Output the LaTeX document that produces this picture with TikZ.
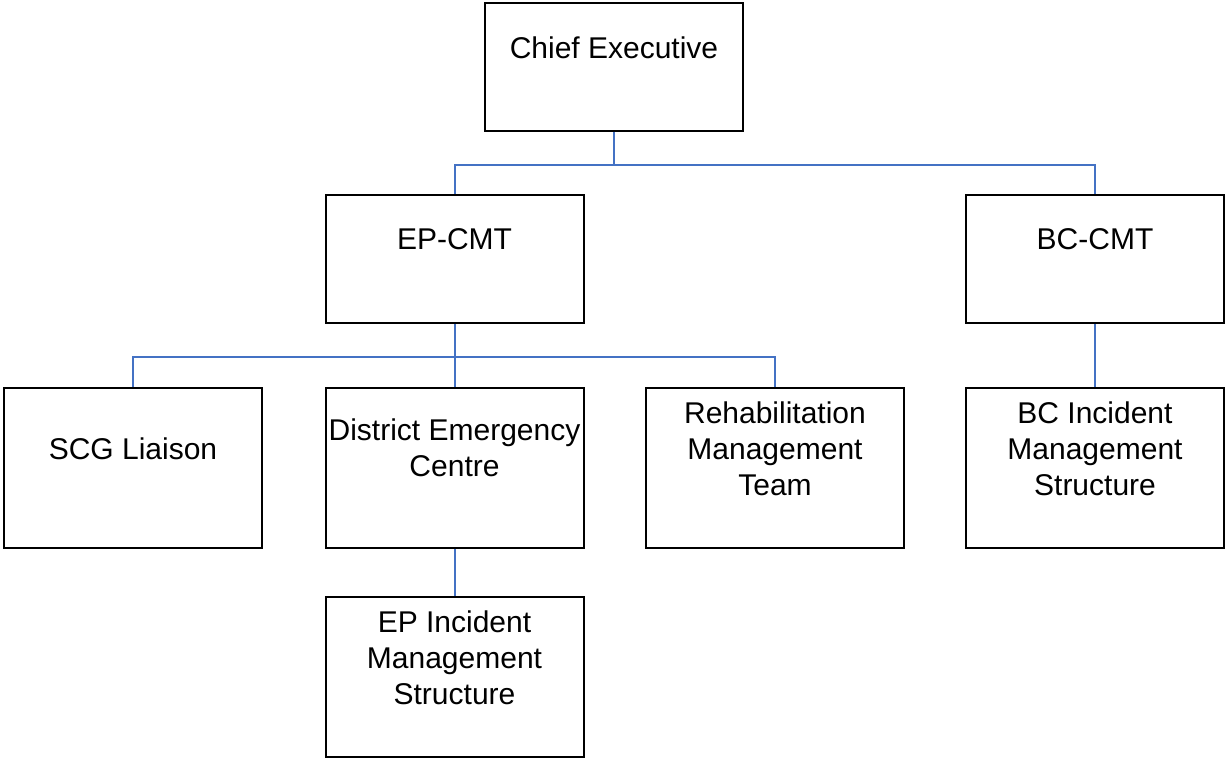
\documentclass[tikz,border=0pt]{standalone}
\usepackage{fontspec}
\setmainfont{Liberation Sans}
\definecolor{conn}{RGB}{68,114,196}
\begin{document}
\begin{tikzpicture}[x=1pt,y=-1pt,
  box/.style={draw=black,line width=2pt,minimum width=258pt,inner sep=0pt},
  boxhi/.style={box,minimum height=128pt},
  boxlo/.style={box,minimum height=160pt},
  txt/.style={anchor=north,inner sep=0pt,align=center,font=\fontsize{30}{36}\selectfont},
  link/.style={draw=conn,line width=2pt}]
\useasboundingbox (0,0) rectangle (1225,758);
% boxes
\node[boxhi] (ce) at (614,66.5) {};
\node[boxhi] (ep) at (454.5,259) {};
\node[boxhi] (bc) at (1095,259) {};
\node[boxlo] (scg) at (133,468) {};
\node[boxlo] (dec) at (454.5,468) {};
\node[boxlo] (rmt) at (775,468) {};
\node[boxlo] (bcims) at (1095,468) {};
\node[boxlo] (epims) at (454.5,677) {};
% texts (first baseline minus strut height 25.2)
\node[txt] (ce-t) at (614,32.8) {\strut Chief Executive};
\node[txt] (ep-t) at (454.5,223.8) {\strut EP-CMT};
\node[txt] (bc-t) at (1095,223.8) {\strut BC-CMT};
\node[txt] (scg-t) at (133,433.8) {\strut SCG Liaison};
\node[txt] (dec-t) at (454.5,414.8) {\strut District Emergency\\Centre};
\node[txt] (rmt-t) at (775,397.8) {\strut Rehabilitation\\Management\\Team};
\node[txt] (bcims-t) at (1095,397.8) {\strut BC Incident\\Management\\Structure};
\node[txt] (epims-t) at (454.5,606.8) {\strut EP Incident\\Management\\Structure};
% connectors
\draw[link] (ce.south) -- ++(0,33) coordinate (j1) -| (ep.north);
\draw[link] (j1) -| (bc.north);
\draw[link] (ep.south) -- ++(0,33) coordinate (j2) -- (dec.north);
\draw[link] (j2) -| (scg.north);
\draw[link] (j2) -| (rmt.north);
\draw[link] (bc.south) -- (bcims.north);
\draw[link] (dec.south) -- (epims.north);
\end{tikzpicture}
\end{document}
